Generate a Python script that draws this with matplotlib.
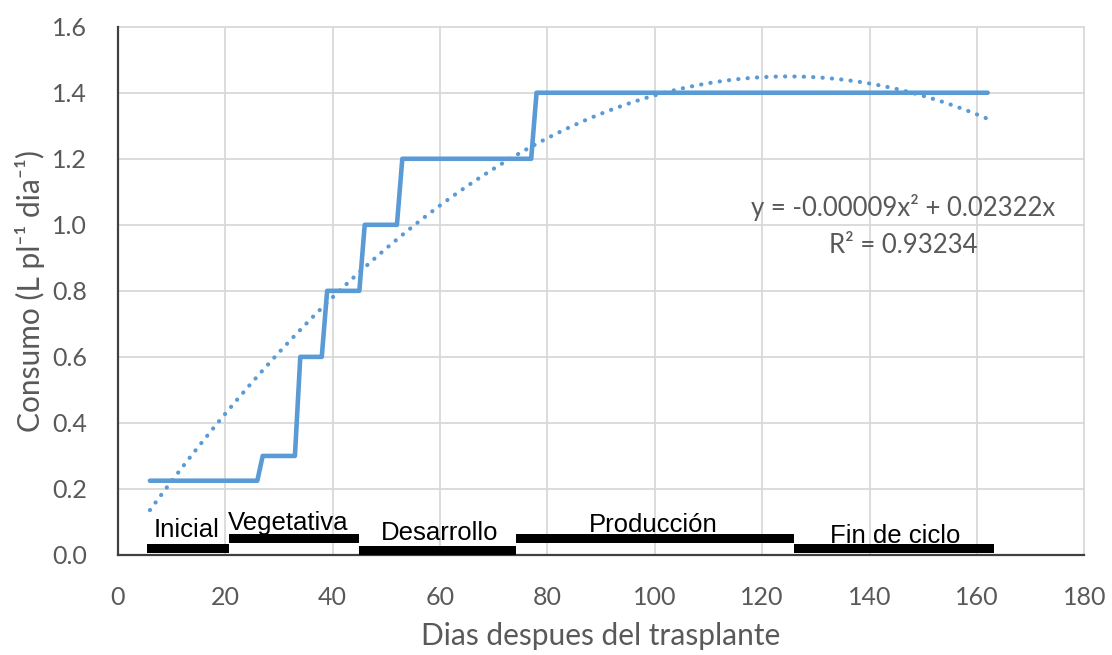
import numpy as np
import matplotlib
matplotlib.use("Agg")
import matplotlib.pyplot as plt

# Daily water consumption per plant (step schedule by day after transplant)
days = [6, 26, 27, 33, 34, 38, 39, 45, 46, 52, 53, 77, 78, 162]
consumo = [0.225, 0.225, 0.30, 0.30, 0.60, 0.60, 0.80, 0.80,
           1.00, 1.00, 1.20, 1.20, 1.40, 1.40]

# Quadratic trend through the origin
trend_a = -0.000093
trend_b = 0.02322
trend_r2 = 0.93234

# Crop phases (start / end day)
phases = ["Inicial", "Vegetativa", "Desarrollo", "Producción", "Fin de ciclo"]
phase_start = [5.5, 20.8, 44.9, 74.1, 126.0]
phase_end = [20.8, 44.9, 74.1, 126.0, 163.1]

x_ticks = [0, 20, 40, 60, 80, 100, 120, 140, 160, 180]
y_ticks = [0.0, 0.2, 0.4, 0.6, 0.8, 1.0, 1.2, 1.4, 1.6]

# layout of the phase bars and their labels
bar_level = [0.020, 0.049, 0.014, 0.049, 0.019]
label_x = [12.9, 31.7, 60.0, 99.7, 144.7]
label_y = [0.0536, 0.0757, 0.0454, 0.0706, 0.0372]

grey = "#595959"
blue = "#5B9BD5"
ui_font = ["Lato", "DejaVu Sans"]

fig = plt.figure(figsize=(11.12, 6.55), dpi=100)
ax = fig.add_axes([117.7 / 1112, 1 - 555 / 655, (1084.3 - 117.7) / 1112, (555 - 26.7) / 655])

ax.set_xlim(0, 180)
ax.set_ylim(0, 1.6)
ax.set_xticks(x_ticks)
ax.set_yticks(y_ticks)
ax.set_yticklabels([f"{v:.1f}" for v in y_ticks])
ax.grid(True, color="#D9D9D9", linewidth=1.3)
ax.set_axisbelow(True)
for gl in ax.get_xgridlines() + ax.get_ygridlines():
    gl.set_clip_on(False)

for s in ["top", "right"]:
    ax.spines[s].set_visible(False)
for s in ["left", "bottom"]:
    ax.spines[s].set_color("#404040")
    ax.spines[s].set_linewidth(1.6)

ax.tick_params(length=0, labelsize=18, labelcolor=grey)
ax.tick_params(axis="x", pad=22)
ax.tick_params(axis="y", pad=22)
for lab in ax.get_xticklabels() + ax.get_yticklabels():
    lab.set_family("Lato")

# consumption steps
ax.plot(days, consumo, color=blue, linewidth=3.3, solid_joinstyle="round",
        solid_capstyle="round", zorder=3)

# trend curve over the data range
xt = np.linspace(days[0], days[-1], 400)
yt = trend_a * xt ** 2 + trend_b * xt
ax.plot(xt, yt, color=blue, linewidth=3.0, linestyle=(0, (0.05, 2.2)),
        dash_capstyle="round", zorder=4)

# phase bars
for s, e, lv in zip(phase_start, phase_end, bar_level):
    ax.barh(lv, e - s, left=s, height=0.027, color="black", zorder=5)
for name, lx, ly in zip(phases, label_x, label_y):
    ax.text(lx, ly, name, ha="center", va="baseline", fontsize=18.5,
            family="Liberation Sans", color="black", zorder=6)

eq = f"y = {trend_a:.5f}x² + {trend_b:.5f}x"
ax.text(146.2, 1.027, eq, ha="center", va="baseline", fontsize=18.5,
        family=ui_font, color=grey)
ax.text(146.2, 0.9155, f"R² = {trend_r2:.5f}", ha="center", va="baseline",
        fontsize=18.5, family=ui_font, color=grey)

ax.set_xlabel("Dias despues del trasplante", fontsize=21.5, family=ui_font,
              color=grey, labelpad=10)
ax.set_ylabel("Consumo (L pl⁻¹ dia⁻¹)", fontsize=21.5, family=ui_font,
              color=grey, labelpad=5)

fig.savefig("out.png", dpi=100)
